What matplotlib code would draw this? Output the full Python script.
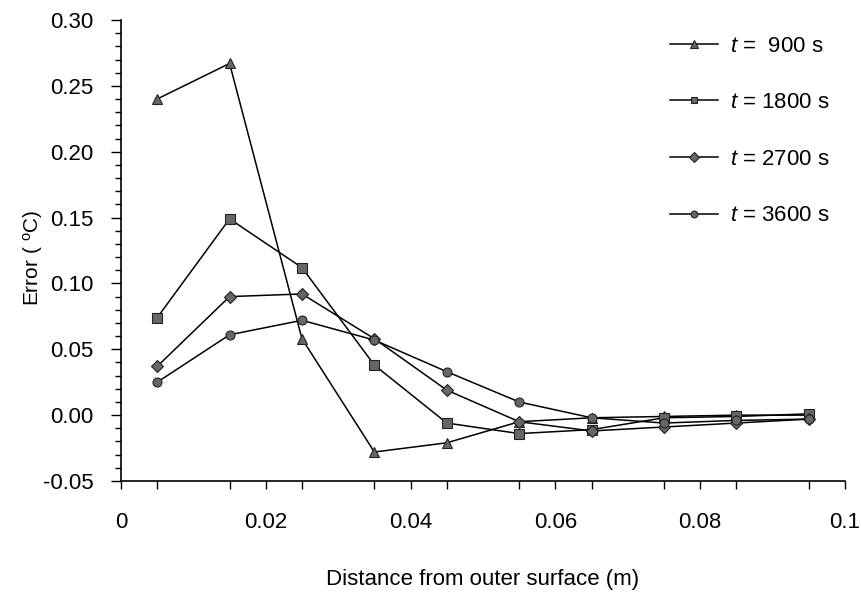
import numpy as np
import matplotlib
matplotlib.use('Agg')
import matplotlib.pyplot as plt
from matplotlib import font_manager
from matplotlib.ticker import MultipleLocator, FixedLocator

#data
x = [0.005, 0.015, 0.025, 0.035, 0.045, 0.055, 0.065, 0.075, 0.085, 0.095]
e900 = [0.240, 0.267, 0.058, -0.028, -0.021, -0.005, -0.002, -0.001, 0.000, 0.000]
e1800 = [0.074, 0.149, 0.112, 0.038, -0.006, -0.014, -0.011, -0.002, -0.001, 0.001]
e2700 = [0.037, 0.090, 0.092, 0.058, 0.019, -0.005, -0.012, -0.009, -0.006, -0.003]
e3600 = [0.025, 0.061, 0.072, 0.057, 0.033, 0.010, -0.002, -0.006, -0.004, -0.003]
labels = ['$t$ =  900 s', '$t$ = 1800 s', '$t$ = 2700 s', '$t$ = 3600 s']
xticks = [0, 0.02, 0.04, 0.06, 0.08, 0.1]
xticklabels = ['0', '0.02', '0.04', '0.06', '0.08', '0.1']
yticks = [-0.05, 0.00, 0.05, 0.10, 0.15, 0.20, 0.25, 0.30]

#fonts
names = set(f.name for f in font_manager.fontManager.ttflist)
base = 'Liberation Sans' if 'Liberation Sans' in names else 'DejaVu Sans'
plt.rcParams['font.family'] = base
plt.rcParams['mathtext.fontset'] = 'custom'
plt.rcParams['mathtext.rm'] = base
plt.rcParams['mathtext.it'] = base + ':italic'

fig = plt.figure(figsize=(8.61, 5.95), dpi=100)
ax = fig.add_axes([0.1405, 0.1916, 0.8409, 0.7748])

series = [e900, e1800, e2700, e3600]
markers = ['^', 's', 'D', 'o']
msizes = [7.5, 6.5, 6.5, 6.5]
for ys, m, ms, lab in zip(series, markers, msizes, labels):
    ax.plot(x, ys, color='black', linewidth=1.1, marker=m, markersize=ms,
            markerfacecolor='#666666', markeredgecolor='#222222',
            markeredgewidth=0.8, label=lab)

ax.set_xlim(0, 0.1)
ax.set_ylim(-0.05, 0.30)
ax.spines['top'].set_visible(False)
ax.spines['right'].set_visible(False)
ax.spines['left'].set_linewidth(1.2)
ax.spines['bottom'].set_linewidth(1.2)

ax.set_yticks(yticks)
ax.set_yticklabels(['%.2f' % v for v in yticks])
ax.yaxis.set_minor_locator(MultipleLocator(0.01))
ax.tick_params(axis='y', which='major', direction='out', length=7, width=1.0, pad=13, labelsize=16)
ax.tick_params(axis='y', which='minor', direction='out', length=4, width=1.0)

ax.set_xticks(xticks)
ax.set_xticklabels(xticklabels)
ax.xaxis.set_minor_locator(FixedLocator(np.arange(0.005, 0.1, 0.01)))
ax.tick_params(axis='x', which='major', direction='out', length=6, width=1.0, pad=16, labelsize=16)
ax.tick_params(axis='x', which='minor', direction='out', length=6, width=1.0)

ax.set_xlabel('Distance from outer surface (m)', fontsize=16, labelpad=26)
ax.set_ylabel('Error ( $^{\\rm o}$C)', fontsize=15)
ax.yaxis.set_label_coords(-0.105, 0.484)

leg = ax.legend(loc='upper left', bbox_to_anchor=(0.778, 0.94), bbox_transform=fig.transFigure,
                frameon=False, fontsize=16, handlelength=2.16, handletextpad=0.55,
                labelspacing=1.6, borderpad=0, borderaxespad=0, markerscale=0.75)

plt.savefig('out.png', dpi=100)
